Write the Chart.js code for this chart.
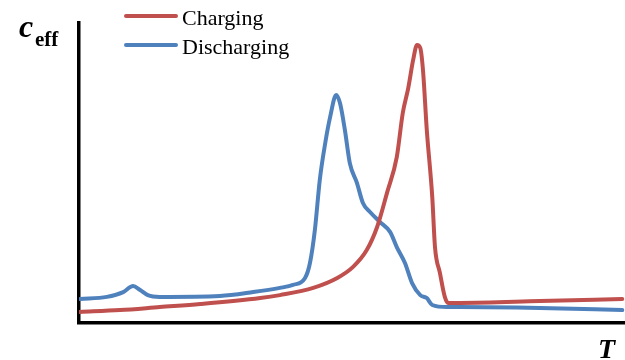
<!DOCTYPE html>
<html>
<head>
<meta charset="utf-8">
<script src="https://cdn.jsdelivr.net/npm/chart.js@4/dist/chart.umd.min.js"></script>
<style>
  html, body { margin: 0; padding: 0; background: #fff; }
  #wrap { width: 625px; height: 360px; position: relative; }
</style>
</head>
<body>
<div id="wrap"><canvas id="c"></canvas></div>
<script>
// Effective heat capacity vs temperature (arbitrary units)
const chargingT = [0.2, 7.5, 14.8, 22.2, 33.2, 36.8, 42.9, 47.3, 50.2, 52.7, 54.6, 56.4, 58.2, 59.3, 60.3, 61.2, 61.9, 62.5, 63.0, 63.7, 64.7, 65.2, 66.1, 67.0, 67.6, 69.8, 84.4, 99.5];
const chargingC = [3.7, 4.3, 5.3, 6.3, 8.3, 9.3, 11.7, 15.0, 18.7, 24.3, 32.0, 43.3, 55.3, 70.0, 78.3, 87.7, 92.7, 91.7, 84.3, 64.3, 42.0, 25.3, 16.7, 8.7, 6.7, 6.7, 7.3, 8.0];

const dischargingT = [0.2, 5.1, 8.1, 9.9, 11.2, 12.6, 14.8, 25.8, 31.9, 36.8, 39.2, 41.4, 42.3, 43.2, 44.1, 45.1, 46.0, 47.1, 47.8, 48.7, 49.6, 50.9, 52.0, 53.3, 55.1, 57.0, 58.2, 59.7, 61.0, 62.5, 63.7, 64.7, 67.4, 69.8, 84.4, 99.5];
const dischargingC = [8.0, 8.7, 10.3, 12.3, 11.0, 9.3, 8.7, 9.0, 10.3, 11.7, 12.7, 15.0, 20.0, 31.0, 47.7, 60.0, 68.7, 76.0, 73.3, 64.3, 53.3, 46.7, 40.0, 37.0, 33.7, 30.3, 25.3, 20.0, 13.3, 9.3, 8.3, 6.0, 5.3, 5.3, 5.0, 4.3];

const seriesNames = ['Charging', 'Discharging'];
const seriesColors = ['#C0504D', '#4F81BD'];
const yTitle = ['c', 'eff'];
const xTitle = 'T';

const toPoints = (xs, ys) => xs.map((x, i) => ({ x: x, y: ys[i] }));

// Legend and axis titles drawn onto the canvas
const annotate = {
  id: 'annotate',
  afterDraw(chart) {
    const ctx = chart.ctx;
    ctx.save();
    // legend
    const rows = [16, 45];
    seriesNames.forEach((name, i) => {
      ctx.strokeStyle = seriesColors[i];
      ctx.lineWidth = 4;
      ctx.lineCap = 'round';
      ctx.beginPath();
      ctx.moveTo(126, rows[i]);
      ctx.lineTo(176, rows[i]);
      ctx.stroke();
      ctx.fillStyle = '#000';
      ctx.font = '22px "Liberation Serif", "Times New Roman", serif';
      ctx.textBaseline = 'alphabetic';
      ctx.textAlign = 'left';
      ctx.fillText(name, 182, rows[i] + 9);
    });
    // y title
    ctx.fillStyle = '#000';
    ctx.font = 'italic bold 32px "Liberation Serif", serif';
    ctx.fillText(yTitle[0], 19, 37);
    ctx.font = 'bold 21px "Liberation Serif", serif';
    ctx.fillText(yTitle[1], 35, 46);
    // x title
    ctx.font = 'italic bold 28px "Liberation Serif", serif';
    ctx.fillText(xTitle, 598, 358);
    ctx.restore();
  }
};

new Chart(document.getElementById('c'), {
  type: 'line',
  data: {
    datasets: [
      { label: seriesNames[0], data: toPoints(chargingT, chargingC), borderColor: seriesColors[0] },
      { label: seriesNames[1], data: toPoints(dischargingT, dischargingC), borderColor: seriesColors[1] }
    ]
  },
  options: {
    responsive: true,
    maintainAspectRatio: false,
    animation: false,
    layout: { padding: { left: 79, top: 23, right: 0, bottom: 37 } },
    elements: {
      line: { borderWidth: 4, cubicInterpolationMode: 'monotone', borderCapStyle: 'round', borderJoinStyle: 'round' },
      point: { radius: 0, hoverRadius: 0 }
    },
    plugins: { legend: { display: false }, tooltip: { enabled: false } },
    scales: {
      x: {
        type: 'linear', min: 0, max: 100,
        grid: { display: false, drawTicks: false },
        ticks: { display: false },
        border: { display: true, color: '#000', width: 3.5 }
      },
      y: {
        type: 'linear', min: 0, max: 100,
        grid: { display: false, drawTicks: false },
        ticks: { display: false },
        border: { display: true, color: '#000', width: 3.5 }
      }
    }
  },
  plugins: [annotate]
});
</script>
</body>
</html>
